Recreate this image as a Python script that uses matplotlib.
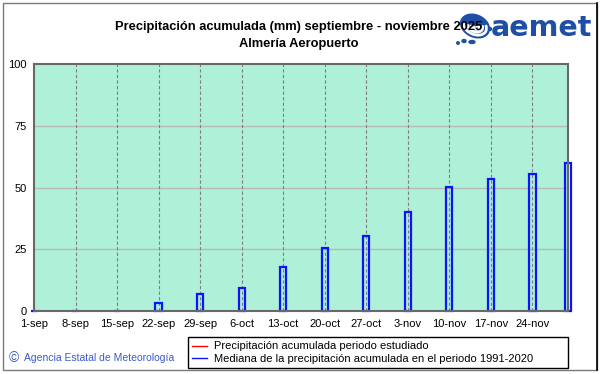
import matplotlib
matplotlib.use("Agg")
import matplotlib.pyplot as plt
from matplotlib.lines import Line2D
from matplotlib.patches import Rectangle, Arc, Ellipse
import numpy as np

# ---- data ----
tick_days = [0, 7, 14, 21, 28, 35, 42, 49, 56, 63, 70, 77, 84]
tick_labels = ["1-sep", "8-sep", "15-sep", "22-sep", "29-sep", "6-oct", "13-oct",
               "20-oct", "27-oct", "3-nov", "10-nov", "17-nov", "24-nov"]
median_days = [0, 7, 14, 21, 28, 35, 42, 49, 56, 63, 70, 77, 84, 90]
median_vals = [0, 0, 0, 3.2, 6.8, 9.2, 18.0, 25.7, 30.2, 39.9, 50.3, 53.3, 55.4, 59.9]
obs_days = [0, 7, 14]
obs_vals = [0, 0, 0]
yticks = [0, 25, 50, 75, 100]

title1 = "Precipitación acumulada (mm) septiembre - noviembre 2025"
title2 = "Almería Aeropuerto"
leg_obs = "Precipitación acumulada periodo estudiado"
leg_med = "Mediana de la precipitación acumulada en el periodo 1991-2020"
footer_sym = "©"
footer = "Agencia Estatal de Meteorología"

plt.rcParams['font.family'] = ['Liberation Sans', 'DejaVu Sans']

W, H = 601, 374
fig = plt.figure(figsize=(W / 100, H / 100), dpi=100)
fig.patch.set_facecolor("white")

def fx(px):
    return px / W

def fy(py):
    return 1 - py / H

left, right, top, bottom = 34, 568, 64, 311
ax = fig.add_axes([fx(left), fy(bottom), fx(right - left), (bottom - top) / H])
ax.set_facecolor("#aef0d8")
ax.set_xlim(0, 90)
ax.set_ylim(0, 100)

# grid
for y in yticks[1:-1]:
    ax.axhline(y, color="#b8b8b8", lw=1.0, zorder=1)
for d in tick_days[1:]:
    ax.axvline(d, color="#808080", lw=0.8, ls=(0, (3, 2)), zorder=1)

# median bars (hollow)
ax.bar(median_days, median_vals, width=1.05, facecolor="none", edgecolor="#0a14ff",
       linewidth=1.6, zorder=3, clip_on=False)
# observed line
ax.plot(obs_days, obs_vals, color="red", lw=1.0, zorder=2)

ax.set_xticks(tick_days)
ax.set_xticklabels(tick_labels, fontsize=8)
ax.set_yticks(yticks)
ax.set_yticklabels([str(v) for v in yticks], fontsize=8)
ax.tick_params(length=0, pad=6)
ax.tick_params(axis="y", pad=5)
for s in ax.spines.values():
    s.set_color("#686868")
    s.set_linewidth(1.5)
    s.set_zorder(5)

# titles
fig.text(0.497, fy(27), title1, ha="center", va="center", fontsize=9.3, fontweight="bold")
fig.text(0.497, fy(44), title2, ha="center", va="center", fontsize=9.3, fontweight="bold")

# logo
logo_col = "#1f4ea6"
fig.text(fx(491), fy(28), "aemet", ha="left", va="center", fontsize=20.5,
         fontweight="bold", color=logo_col, family="DejaVu Sans")
lax = fig.add_axes([fx(452), fy(47), fx(40), 34 / H])
lax.set_xlim(0, 40)
lax.set_ylim(0, 34)
lax.axis("off")
lax.add_patch(Ellipse((23, 21), 30, 22, angle=-25, color=logo_col))
for r, w in [(24, 2.0), (16, 2.0), (9, 1.8), (4, 1.5)]:
    lax.add_patch(Arc((23, 21), r, r * 0.7, angle=-25, theta1=190, theta2=30,
                      color="white", lw=w))
lax.add_patch(Ellipse((38, 18), 3, 3, color=logo_col))
lax.add_patch(Ellipse((12, 6), 4, 3, color=logo_col))
lax.add_patch(Ellipse((6, 4), 2.5, 2.5, color=logo_col))
lax.add_patch(Ellipse((20, 5), 6, 3, color=logo_col))

# legend
handles = [Line2D([], [], color="red", lw=1.0),
           Line2D([], [], color="#0a14ff", lw=1.0)]
leg = fig.legend(handles, [leg_obs, leg_med], loc="upper left",
                 bbox_to_anchor=(fx(188), fy(368), fx(380), 31 / H), mode="expand",
                 borderaxespad=0, fancybox=False, edgecolor="black", framealpha=1,
                 handlelength=1.3, handletextpad=0.6, labelspacing=0.2,
                 borderpad=0.4, fontsize=8)
leg.get_frame().set_linewidth(1.0)

# footer
fig.text(fx(9), fy(358), footer_sym, ha="left", va="center", fontsize=10, color="#3a5ccc")
fig.text(fx(24), fy(358), footer, ha="left", va="center", fontsize=7.5, color="#3a5ccc")

# outer border
fig.add_artist(Rectangle((fx(3), fy(370)), fx(594), (367) / H, transform=fig.transFigure,
                         fill=False, edgecolor="#7a7a7a", lw=1.0))
fig.add_artist(Line2D([fx(597), fx(597)], [fy(370), fy(3)], transform=fig.transFigure,
                      color="black", lw=1.2))

fig.savefig("out.png", dpi=100)
